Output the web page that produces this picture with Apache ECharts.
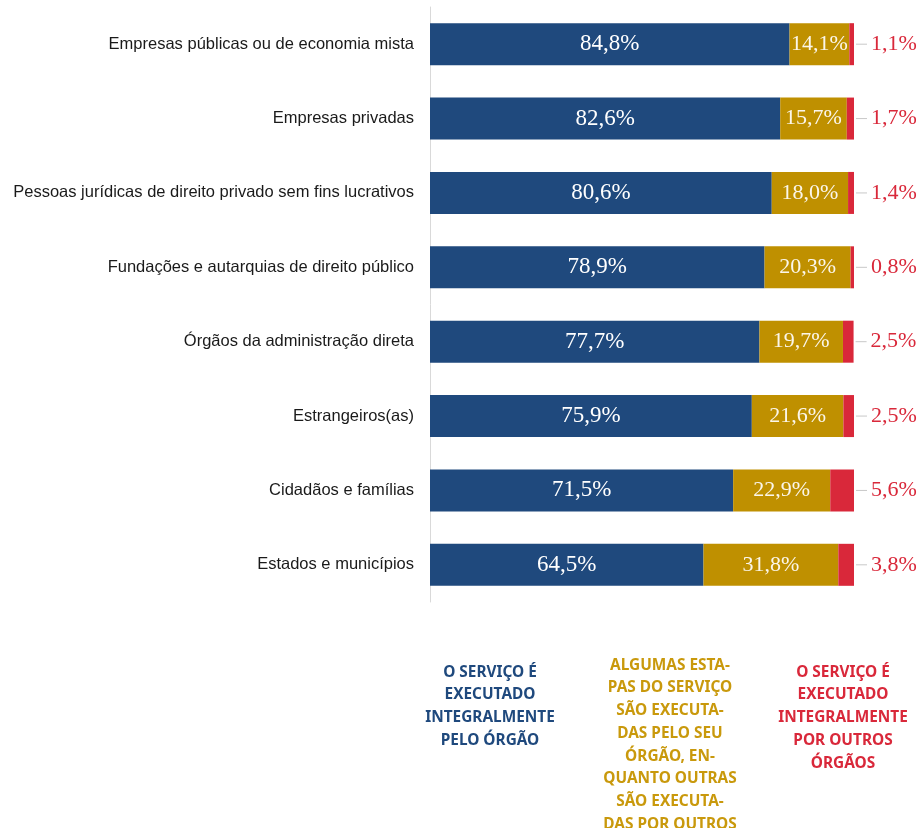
<!DOCTYPE html>
<html><head><meta charset="utf-8">
<script src="https://cdn.jsdelivr.net/npm/echarts@6/dist/echarts.min.js"></script>
<style>html,body{margin:0;padding:0;background:#fff}#c{width:922px;height:828px}</style>
</head><body><div id="c"></div>
<script>
const categories = [
  "Empresas públicas ou de economia mista",
  "Empresas privadas",
  "Pessoas jurídicas de direito privado sem fins lucrativos",
  "Fundações e autarquias de direito público",
  "Órgãos da administração direta",
  "Estrangeiros(as)",
  "Cidadãos e famílias",
  "Estados e municípios"
];
const integral = [84.8, 82.6, 80.6, 78.9, 77.7, 75.9, 71.5, 64.5];
const partial  = [14.1, 15.7, 18.0, 20.3, 19.7, 21.6, 22.9, 31.8];
const others   = [1.1, 1.7, 1.4, 0.8, 2.5, 2.5, 5.6, 3.8];
const legendTexts = [
  "O SERVIÇO É\nEXECUTADO\nINTEGRALMENTE\nPELO ÓRGÃO",
  "ALGUMAS ESTA-\nPAS DO SERVIÇO\nSÃO EXECUTA-\nDAS PELO SEU\nÓRGÃO, EN-\nQUANTO OUTRAS\nSÃO EXECUTA-\nDAS POR OUTROS\nÓRGÃOS",
  "O SERVIÇO É\nEXECUTADO\nINTEGRALMENTE\nPOR OUTROS\nÓRGÃOS"
];
const BLUE = '#1F497D', GOLD = '#BF9000', RED = '#D9283A';
const fmt = v => v.toFixed(1).replace('.', ',') + '%';

const chart = echarts.init(document.getElementById('c'));
const serif = '"Liberation Serif", "DejaVu Serif", serif';
const legendFont = 'bold 15.4px "Noto Sans", "Open Sans", sans-serif';
chart.setOption({
  animation: false,
  grid: { left: 430, right: 68, top: 7, height: 595, containLabel: false },
  xAxis: { type: 'value', min: 0, max: 100, show: false },
  yAxis: {
    type: 'category', data: categories, inverse: true,
    axisLine: { show: true, lineStyle: { color: '#d9d9d9', width: 1 } },
    axisTick: { show: false },
    axisLabel: { color: '#1a1a1a', fontFamily: '"Liberation Sans", Arial, sans-serif', fontSize: 16.5, margin: 16 }
  },
  series: [
    { name: 'integral', type: 'bar', stack: 's', data: integral, barWidth: 42,
      itemStyle: { color: BLUE },
      label: { show: true, position: 'inside', color: '#fff', fontFamily: serif, fontSize: 23, formatter: p => fmt(p.value) } },
    { name: 'partial', type: 'bar', stack: 's', data: partial, barWidth: 42,
      itemStyle: { color: GOLD },
      label: { show: true, position: 'inside', color: '#fbf6ea', fontFamily: serif, fontSize: 22, formatter: p => fmt(p.value) } },
    { name: 'others', type: 'bar', stack: 's', data: others, barWidth: 42,
      itemStyle: { color: RED },
      label: { show: true, position: 'right', distance: 2,
        formatter: p => '{l|}{v|' + fmt(p.value) + '}',
        rich: {
          l: { width: 11, height: 1, backgroundColor: '#c8c8c8' },
          v: { color: RED, fontFamily: serif, fontSize: 22, padding: [0, 0, 0, 4] }
        } } }
  ],
  graphic: legendTexts.map((t, i) => ({
    type: 'text', x: [490, 670, 843][i], y: [661, 654, 661][i],
    style: { text: t, fill: [BLUE, '#C9990C', RED][i], font: legendFont, align: 'center', verticalAlign: 'top', lineHeight: 22.7 }
  }))
});
</script></body></html>
